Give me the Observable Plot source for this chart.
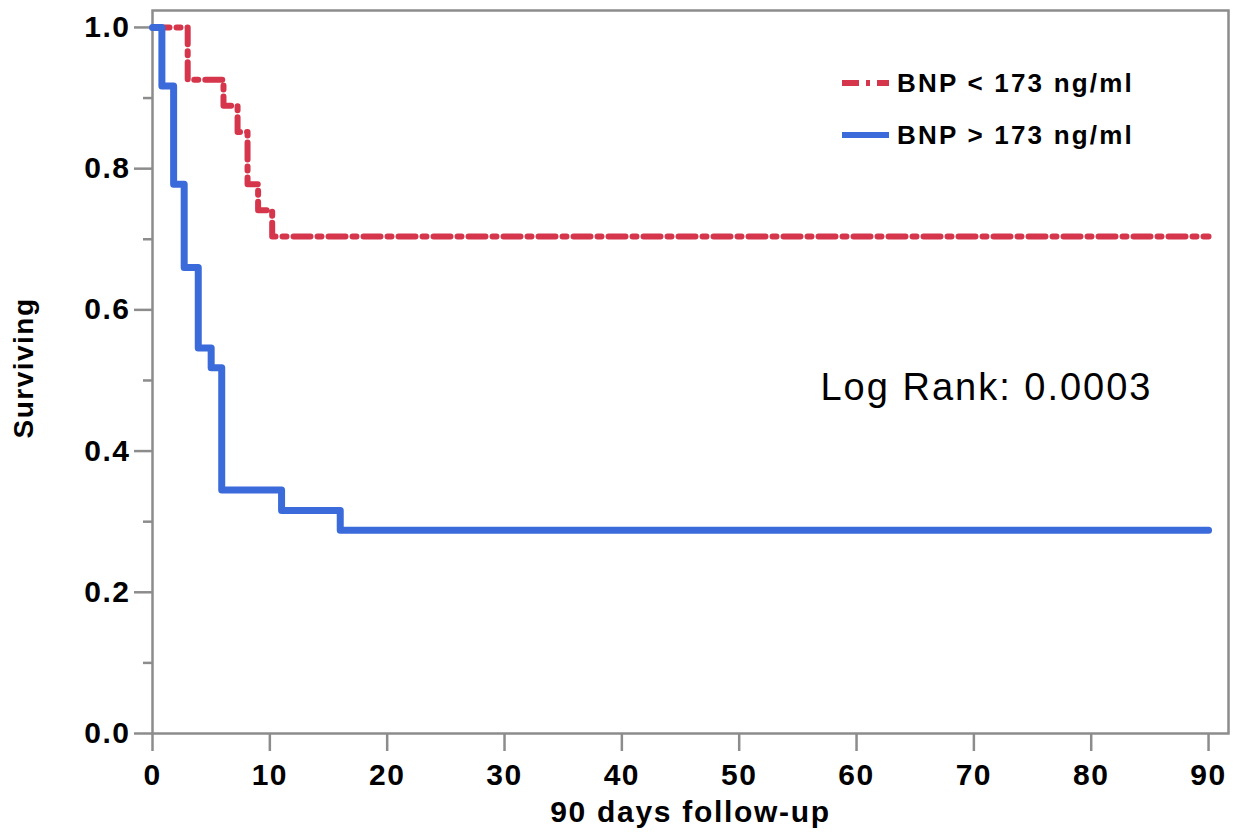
<!DOCTYPE html>
<html><head><meta charset="utf-8">
<script src="https://cdn.jsdelivr.net/npm/d3@7"></script>
<script src="https://cdn.jsdelivr.net/npm/@observablehq/plot@0.6"></script>
<style>
body{margin:0;background:#fff;}
#wrap{position:relative;width:1245px;height:836px;}
#legend{position:absolute;left:842px;top:57px;font-family:"Liberation Sans",Arial,sans-serif;font-weight:bold;font-size:26px;letter-spacing:2.2px;color:#000;}
.row{display:flex;align-items:center;height:52px;}
.row svg{margin-right:8px;}
</style></head><body><div id="wrap"></div>
<script>
// Data
const groups = ["BNP < 173 ng/ml", "BNP > 173 ng/ml"];
const colors = ["#d6364c", "#3b6bdb"];
const lowDays = [0, 3, 6.05, 7.25, 8.1, 9, 10.2, 90];
const lowSurv = [1.0, 0.926, 0.889, 0.852, 0.778, 0.741, 0.704, 0.704];
const highDays = [0, 0.8, 1.8, 2.7, 3.9, 5.0, 5.9, 11, 16, 90];
const highSurv = [1.0, 0.917, 0.778, 0.660, 0.546, 0.518, 0.345, 0.316, 0.288, 0.288];
const xTicks = [0, 10, 20, 30, 40, 50, 60, 70, 80, 90];
const yTicks = [0, 0.2, 0.4, 0.6, 0.8, 1.0];
const yMinor = [0.1, 0.3, 0.5, 0.7, 0.9];
const xLabel = "90 days follow-up";
const yLabel = "Surviving";
const note = "Log Rank: 0.0003";

const lowData = lowDays.map((d, i) => ({day: d, surv: lowSurv[i]}));
const highData = highDays.map((d, i) => ({day: d, surv: highSurv[i]}));
const axisGray = "#8c8c8c";
const dashPattern = "17,7,4,7";

const plot = Plot.plot({
  width: 1245, height: 836,
  marginLeft: 152, marginRight: 17, marginTop: 10, marginBottom: 103,
  x: {domain: [0, 91.7]},
  y: {domain: [0, 1.024]},
  style: {fontFamily: "'Liberation Sans', Arial, sans-serif", fontSize: "30px", fontWeight: "bold", color: "#000", background: "#fff", letterSpacing: "1.5px"},
  marks: [
    Plot.axisX({ticks: xTicks, tickSize: 18, tickPadding: 12, stroke: axisGray, strokeWidth: 2.5, label: null, tickFormat: d => String(d)}),
    Plot.axisY({ticks: yTicks, tickSize: 18, tickPadding: 4, stroke: axisGray, strokeWidth: 2.5, label: null, tickFormat: d3.format(".1f")}),
    Plot.axisY({ticks: yMinor, tickSize: 9, text: null, stroke: axisGray, strokeWidth: 2.5, label: null}),
    Plot.frame({stroke: axisGray, strokeWidth: 2.5}),
    Plot.line(lowData, {x: "day", y: "surv", curve: "step-after", stroke: colors[0], strokeWidth: 6, strokeDasharray: dashPattern}),
    Plot.line(highData, {x: "day", y: "surv", curve: "step-after", stroke: colors[1], strokeWidth: 7}),
    Plot.text([note], {text: d => d, frameAnchor: "top-right", dx: -76, dy: 389, lineAnchor: "bottom", textAnchor: "end", fontSize: 38, fontWeight: "normal"}),
    Plot.text([xLabel], {text: d => d, frameAnchor: "bottom", dy: 88, lineAnchor: "bottom", textAnchor: "middle", fontSize: 30}),
    Plot.text([yLabel], {text: d => d, frameAnchor: "left", dx: -120, dy: -4, rotate: -90, lineAnchor: "bottom", textAnchor: "middle", fontSize: 28})
  ]
});
d3.select(plot).selectAll("text").filter(function() { return this.textContent === note; }).style("letter-spacing", "2px");
d3.select(plot).selectAll("text").filter(function() { return this.textContent === xLabel; }).style("letter-spacing", "1.7px");

const wrap = document.getElementById("wrap");
wrap.appendChild(plot);

const legend = document.createElement("div");
legend.id = "legend";
groups.forEach((g, i) => {
  const row = document.createElement("div");
  row.className = "row";
  const dash = i === 0 ? `stroke-dasharray="${dashPattern}"` : "";
  row.innerHTML = `<svg width="47" height="10"><line x1="0" x2="47" y1="5" y2="5" stroke="${colors[i]}" stroke-width="6" ${dash}/></svg><span>${g.replace("<", "&lt;").replace(">", "&gt;")}</span>`;
  legend.appendChild(row);
});
wrap.appendChild(legend);
</script></body></html>
